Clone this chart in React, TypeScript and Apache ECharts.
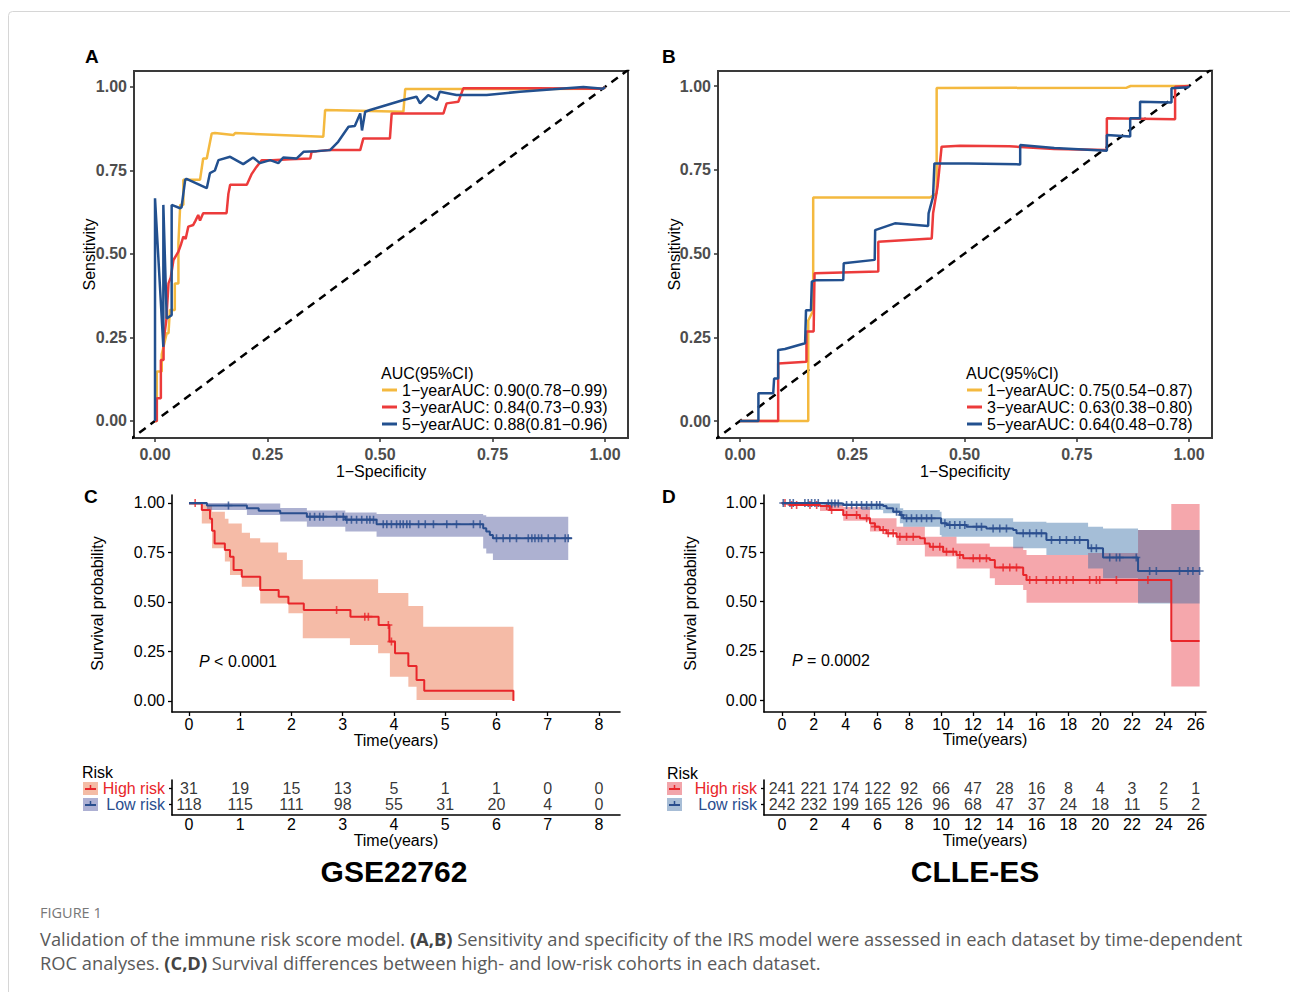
import React, { useEffect, useRef } from "react";
import * as echarts from "echarts";

const FONT = "'Liberation Sans', Arial, Helvetica, sans-serif";
const CAP_FONT = "'Open Sans', 'Noto Sans', sans-serif";

// ---------------- Panel A: time-dependent ROC, GSE22762 ----------------
const rocA_names = ["1−yearAUC: 0.90(0.78−0.99)", "3−yearAUC: 0.84(0.73−0.93)", "5−yearAUC: 0.88(0.81−0.96)"];
const rocA_1y = [[0,0],[0.004,0],[0.004,0.148],[0.015,0.148],[0.015,0.2],[0.026,0.263],[0.03,0.263],[0.033,0.332],[0.044,0.332],[0.044,0.412],[0.052,0.412],[0.052,0.532],[0.056,0.647],[0.063,0.647],[0.063,0.722],[0.1,0.722],[0.107,0.786],[0.115,0.786],[0.126,0.861],[0.133,0.862],[0.174,0.856],[0.178,0.862],[0.374,0.851],[0.378,0.931],[0.552,0.926],[0.556,0.994],[0.685,0.994],[0.996,0.995],[1,1]];
const rocA_3y = [[0,0],[0.004,0],[0.004,0.068],[0.013,0.068],[0.013,0.183],[0.019,0.183],[0.019,0.24],[0.025,0.3],[0.03,0.412],[0.035,0.43],[0.041,0.482],[0.052,0.507],[0.058,0.53],[0.063,0.552],[0.068,0.545],[0.074,0.582],[0.085,0.587],[0.09,0.6],[0.096,0.617],[0.1,0.6],[0.107,0.622],[0.159,0.622],[0.163,0.68],[0.167,0.707],[0.204,0.707],[0.215,0.74],[0.225,0.76],[0.237,0.781],[0.26,0.781],[0.3,0.784],[0.345,0.786],[0.348,0.806],[0.385,0.811],[0.456,0.811],[0.463,0.846],[0.522,0.846],[0.526,0.921],[0.641,0.921],[0.648,0.951],[0.674,0.956],[0.685,0.996],[0.85,0.996],[0.996,0.995],[1,1]];
const rocA_5y = [[0,0],[0,0.667],[0.0185,0.222],[0.0185,0.647],[0.026,0.307],[0.037,0.317],[0.037,0.647],[0.056,0.637],[0.059,0.64],[0.067,0.722],[0.07,0.725],[0.115,0.697],[0.122,0.742],[0.133,0.75],[0.141,0.781],[0.167,0.791],[0.196,0.769],[0.218,0.789],[0.233,0.772],[0.256,0.781],[0.274,0.772],[0.285,0.789],[0.315,0.786],[0.33,0.806],[0.359,0.808],[0.389,0.811],[0.407,0.836],[0.43,0.881],[0.444,0.883],[0.456,0.921],[0.46,0.87],[0.467,0.926],[0.478,0.931],[0.515,0.946],[0.552,0.961],[0.581,0.971],[0.589,0.951],[0.607,0.976],[0.626,0.961],[0.633,0.986],[0.67,0.976],[0.737,0.976],[0.811,0.986],[0.885,0.993],[0.952,1.0],[0.996,0.995],[1,1]];

// ---------------- Panel B: time-dependent ROC, CLLE-ES ----------------
const rocB_names = ["1−yearAUC: 0.75(0.54−0.87)", "3−yearAUC: 0.63(0.38−0.80)", "5−yearAUC: 0.64(0.48−0.78)"];
const rocB_1y = [[0,0],[0.089,0],[0.152,0],[0.152,0.3],[0.163,0.33],[0.163,0.667],[0.423,0.667],[0.438,0.68],[0.438,0.994],[0.861,0.995],[0.87,1.0],[1,1]];
const rocB_3y = [[0,0],[0.085,0],[0.085,0.172],[0.148,0.177],[0.148,0.267],[0.164,0.267],[0.166,0.441],[0.308,0.446],[0.308,0.535],[0.427,0.545],[0.43,0.62],[0.44,0.7],[0.449,0.819],[0.49,0.822],[0.6,0.82],[0.7,0.812],[0.817,0.809],[0.817,0.904],[0.969,0.901],[0.969,0.998],[1,1]];
const rocB_5y = [[0,0],[0.041,0],[0.041,0.083],[0.074,0.083],[0.076,0.127],[0.085,0.127],[0.085,0.212],[0.1,0.215],[0.145,0.232],[0.147,0.331],[0.158,0.331],[0.16,0.416],[0.167,0.42],[0.23,0.421],[0.231,0.471],[0.3,0.481],[0.301,0.57],[0.345,0.59],[0.419,0.582],[0.42,0.62],[0.43,0.67],[0.433,0.769],[0.508,0.769],[0.624,0.766],[0.624,0.824],[0.7,0.815],[0.817,0.807],[0.817,0.854],[0.869,0.849],[0.869,0.904],[0.891,0.904],[0.891,0.953],[0.961,0.951],[0.961,0.993],[0.998,0.996],[1,1]];

const rocTicks = [0, 0.25, 0.5, 0.75, 1];
const diagonal = [[-0.06, -0.06], [1.06, 1.06]];

// ---------------- Panel C: Kaplan-Meier, GSE22762 ----------------
const kmC_high = [[0,1],[0.25,0.965],[0.41,0.92],[0.45,0.86],[0.5,0.796],[0.7,0.763],[0.8,0.729],[0.87,0.662],[1.03,0.628],[1.39,0.561],[1.75,0.527],[1.94,0.493],[2.24,0.46],[3.15,0.426],[3.7,0.384],[3.91,0.3],[4.02,0.241],[4.28,0.177],[4.44,0.106],[4.59,0.052],[6.33,0.0]];
const kmC_low = [[0,1],[0.35,0.987],[1.13,0.973],[1.36,0.961],[1.78,0.948],[2.3,0.931],[3.05,0.916],[3.66,0.893],[5.74,0.872],[5.8,0.856],[5.87,0.838],[5.93,0.822],[7.47,0.822]];
// [time, lower, upper]
const kmC_highBand = [[0,0.99,1.0],[0.25,0.897,0.99],[0.45,0.771,0.956],[0.7,0.704,0.92],[0.77,0.704,0.897],[0.8,0.636,0.897],[1.03,0.577,0.85],[1.19,0.577,0.822],[1.39,0.493,0.8],[1.74,0.493,0.75],[1.91,0.493,0.712],[1.94,0.443,0.712],[2.22,0.317,0.615],[3.14,0.283,0.615],[3.69,0.241,0.545],[3.92,0.123,0.545],[4.28,0.072,0.48],[4.44,0.005,0.48],[4.57,0.005,0.375],[6.33,0.005,0.375]];
const kmC_lowBand = [[0,0.99,1.0],[0.35,0.965,1.0],[1.13,0.94,0.998],[1.78,0.906,0.975],[2.3,0.88,0.962],[3.05,0.856,0.952],[3.66,0.83,0.945],[5.74,0.77,0.938],[5.8,0.745,0.931],[5.93,0.712,0.931],[7.4,0.712,0.931]];
const kmC_highCensor = [0.12, 2.88, 3.43, 3.5, 3.89, 3.95];
const kmC_lowCensor = [0.77, 2.36, 2.45, 2.55, 2.62, 2.88, 3.01, 3.08, 3.17, 3.27, 3.37, 3.47, 3.53, 3.6, 3.79, 3.86, 3.95, 4.05, 4.12, 4.18, 4.25, 4.31, 4.48, 4.61, 4.77, 5.03, 5.22, 5.55, 5.68, 6.0, 6.13, 6.26, 6.39, 6.62, 6.69, 6.75, 6.82, 6.88, 7.01, 7.14, 7.34, 7.4];
const timeC = [0, 1, 2, 3, 4, 5, 6, 7, 8];
const riskC_high = [31, 19, 15, 13, 5, 1, 1, 0, 0];
const riskC_low = [118, 115, 111, 98, 55, 31, 20, 4, 0];

// ---------------- Panel D: Kaplan-Meier, CLLE-ES ----------------
const kmD_high = [[0,1],[0.5,0.99],[2.39,0.985],[3.01,0.964],[3.85,0.939],[4.9,0.922],[5.53,0.897],[5.84,0.88],[6.15,0.863],[6.57,0.846],[7.2,0.829],[8.67,0.821],[8.98,0.795],[9.29,0.778],[10.13,0.753],[10.97,0.736],[11.39,0.719],[13.06,0.711],[13.38,0.673],[15.16,0.635],[15.37,0.609],[24.47,0.3],[26.25,0.3]];
const kmD_low = [[0,1],[2.8,0.998],[3.85,0.99],[6.36,0.985],[6.57,0.973],[6.99,0.956],[7.41,0.939],[7.62,0.922],[10.0,0.897],[10.34,0.888],[11.6,0.88],[12.85,0.871],[14.53,0.863],[14.74,0.846],[16.62,0.812],[19.24,0.77],[20.18,0.723],[22.38,0.655],[26.25,0.655]];
const kmD_highBand = [[0,0.99,1.0],[2.39,0.96,0.99],[3.85,0.91,0.98],[5.53,0.855,0.922],[7.2,0.787,0.88],[8.98,0.728,0.829],[10.97,0.668,0.795],[13.06,0.618,0.778],[13.38,0.584,0.778],[15.16,0.558,0.761],[15.37,0.494,0.736],[19.24,0.494,0.746],[22.38,0.494,0.863],[24.47,0.068,0.995],[26.25,0.068,0.995]];
const kmD_lowBand = [[0,0.99,1.0],[2.8,0.985,1.0],[5.0,0.964,1.0],[6.36,0.948,0.998],[7.41,0.897,0.973],[7.62,0.88,0.965],[9.92,0.838,0.956],[10.03,0.829,0.922],[14.53,0.77,0.905],[16.62,0.736,0.9],[19.24,0.668,0.88],[20.18,0.618,0.871],[22.38,0.49,0.863],[26.25,0.49,0.863]];
const kmD_highCensor = [0.19, 0.61, 0.92, 1.76, 2.18, 2.81, 3.12, 4.06, 4.69, 5.32, 5.84, 6.36, 6.68, 6.99, 7.41, 7.83, 8.25, 9.5, 9.92, 10.34, 10.76, 11.18, 12.02, 12.43, 12.85, 13.9, 14.32, 14.74, 15.57, 15.99, 16.62, 17.04, 17.46, 17.88, 18.3, 19.34, 19.76, 19.97, 21.02, 23.0];
const kmD_lowCensor = [0.08, 0.5, 0.71, 1.44, 1.65, 1.86, 2.07, 2.28, 2.91, 3.12, 3.33, 3.54, 4.06, 4.38, 4.69, 5.0, 5.32, 5.63, 5.95, 6.15, 7.2, 7.52, 7.83, 8.14, 8.46, 8.77, 9.09, 9.4, 10.24, 10.55, 10.86, 11.18, 11.49, 12.23, 12.54, 13.27, 13.69, 14.11, 15.16, 15.57, 15.99, 16.31, 16.94, 17.46, 17.88, 18.4, 18.71, 19.45, 19.76, 20.6, 21.02, 21.23, 22.27, 23.11, 23.53, 24.99, 25.52, 25.83, 26.25];
const timeD = [0, 2, 4, 6, 8, 10, 12, 14, 16, 18, 20, 22, 24, 26];
const riskD_high = [241, 221, 174, 122, 92, 66, 47, 28, 16, 8, 4, 3, 2, 1];
const riskD_low = [242, 232, 199, 165, 126, 96, 68, 47, 37, 24, 18, 11, 5, 2];

const survTicks = [0, 0.25, 0.5, 0.75, 1];

// ---------------- colours ----------------
const C_YEL = "#F4B93F";
const C_RED = "#EC3B3B";
const C_BLU = "#22508F";
const KM_RED = "#E8262A";
const KM_BLU = "#2A4E8E";

// ---------------- helpers ----------------
function stepPts(band: number[][], idx: number) {
  const out: number[][] = [];
  for (let i = 0; i < band.length; i++) {
    out.push([band[i][0], band[i][idx]]);
    if (i < band.length - 1) out.push([band[i + 1][0], band[i][idx]]);
  }
  return out;
}
function bandPolygon(band: number[][]) {
  return stepPts(band, 2).concat(stepPts(band, 1).reverse());
}
function survAt(steps: number[][], t: number) {
  let s = steps[0][1];
  for (const p of steps) {
    if (p[0] <= t) s = p[1];
    else break;
  }
  return s;
}
const PLUS = "path://M0,4H10V6H0Z M4,0H6V10H4Z";

function bandSeries(name: string, band: number[][], ax: number, fill: string) {
  return {
    name,
    type: "custom",
    xAxisIndex: ax,
    yAxisIndex: ax,
    silent: true,
    data: [[0, 0]],
    renderItem: (_p: any, api: any) => ({
      type: "polygon",
      shape: { points: bandPolygon(band).map((pt) => api.coord(pt)) },
      style: { fill },
    }),
  };
}
function kmLine(name: string, steps: number[][], ax: number, color: string) {
  return {
    name,
    type: "line",
    xAxisIndex: ax,
    yAxisIndex: ax,
    step: "end",
    data: steps,
    showSymbol: false,
    silent: true,
    color,
    lineStyle: { color, width: 2 },
  };
}
function censorSeries(name: string, times: number[], steps: number[][], ax: number, color: string) {
  return {
    name,
    type: "scatter",
    xAxisIndex: ax,
    yAxisIndex: ax,
    symbol: PLUS,
    symbolSize: 8,
    silent: true,
    itemStyle: { color },
    data: times.map((t) => [t, survAt(steps, t)]),
  };
}
function rocSeries(name: string, data: number[][], ax: number, color: string) {
  return {
    name,
    type: "line",
    xAxisIndex: ax,
    yAxisIndex: ax,
    data,
    showSymbol: false,
    silent: true,
    color,
    itemStyle: { color },
    lineStyle: { color, width: 2.5 },
  };
}
function diagSeries(name: string, ax: number) {
  return {
    name,
    type: "line",
    xAxisIndex: ax,
    yAxisIndex: ax,
    data: diagonal,
    showSymbol: false,
    silent: true,
    clip: true,
    lineStyle: { color: "#000", width: 2.5, type: [8, 6] },
  };
}
function riskSeries(name: string, times: number[], counts: number[], row: number, ax: number) {
  return {
    name,
    type: "scatter",
    xAxisIndex: ax,
    yAxisIndex: ax,
    symbolSize: 1,
    silent: true,
    itemStyle: { color: "rgba(0,0,0,0)" },
    label: {
      show: true,
      position: "inside",
      formatter: (p: any) => String(p.value[2]),
      fontSize: 16,
      color: "#000",
      fontFamily: FONT,
    },
    data: times.map((t, i) => [t, row, counts[i]]),
  };
}

// axes
function rocXAxis(gi: number, min: number, max: number) {
  return {
    gridIndex: gi, type: "value", min, max,
    axisLine: { show: false, onZero: false }, splitLine: { show: false },
    axisTick: { show: true, length: 4, customValues: rocTicks, lineStyle: { color: "#333", width: 1.5 } },
    axisLabel: { customValues: rocTicks, formatter: (v: number) => v.toFixed(2), fontSize: 16, color: "#4d4d4d", fontWeight: "bold", margin: 8, fontFamily: FONT },
    name: "1−Specificity", nameLocation: "middle", nameGap: 25, nameMoveOverlap: false,
    nameTextStyle: { fontSize: 16, color: "#000", fontFamily: FONT },
  };
}
function rocYAxis(gi: number, min: number, max: number, nameGap: number) {
  return {
    gridIndex: gi, type: "value", min, max,
    axisLine: { show: false, onZero: false }, splitLine: { show: false },
    axisTick: { show: true, length: 4, customValues: rocTicks, lineStyle: { color: "#333", width: 1.5 } },
    axisLabel: { customValues: rocTicks, formatter: (v: number) => v.toFixed(2), fontSize: 16, color: "#4d4d4d", fontWeight: "bold", margin: 7, fontFamily: FONT },
    name: "Sensitivity", nameLocation: "middle", nameGap, nameMoveOverlap: false,
    nameTextStyle: { fontSize: 16, color: "#000", fontFamily: FONT },
  };
}
function kmXAxis(gi: number, min: number, max: number, ticks: number[], nameGap: number, margin: number, showTick: boolean) {
  return {
    gridIndex: gi, type: "value", min, max,
    axisLine: { show: true, onZero: false, lineStyle: { color: "#000", width: 1.6 } },
    splitLine: { show: false },
    axisTick: { show: showTick, length: 4, customValues: ticks, lineStyle: { color: "#000", width: 1.3 } },
    axisLabel: { customValues: ticks, formatter: (v: number) => String(v), fontSize: 16, color: "#000", margin, fontFamily: FONT },
    name: "Time(years)", nameLocation: "middle", nameGap, nameMoveOverlap: false,
    nameTextStyle: { fontSize: 16, color: "#000", fontFamily: FONT },
  };
}
function kmYAxis(gi: number, min: number, max: number, nameGap: number) {
  return {
    gridIndex: gi, type: "value", min, max,
    axisLine: { show: true, onZero: false, lineStyle: { color: "#000", width: 1.6 } },
    splitLine: { show: false },
    axisTick: { show: true, length: 4, customValues: survTicks, lineStyle: { color: "#000", width: 1.3 } },
    axisLabel: { customValues: survTicks, formatter: (v: number) => v.toFixed(2), fontSize: 16, color: "#000", margin: 7, fontFamily: FONT },
    name: "Survival probability", nameLocation: "middle", nameGap, nameMoveOverlap: false,
    nameTextStyle: { fontSize: 16, color: "#000", fontFamily: FONT },
  };
}
function riskYAxis(gi: number) {
  return {
    gridIndex: gi, type: "value", min: -0.687, max: 1.5,
    axisLine: { show: true, onZero: false, lineStyle: { color: "#000", width: 1.6 } },
    splitLine: { show: false },
    axisTick: { show: true, length: 3, customValues: [0, 1], lineStyle: { color: "#000", width: 1.3 } },
    axisLabel: {
      customValues: [0, 1], margin: 7,
      formatter: (v: number) => (v === 1 ? "{h|High risk}" : "{l|Low risk}"),
      rich: {
        h: { color: KM_RED, fontSize: 16, fontFamily: FONT },
        l: { color: KM_BLU, fontSize: 16, fontFamily: FONT },
      },
    },
  };
}

function txt(x: number, y: number, text: string, opt: any = {}) {
  return {
    type: "text",
    silent: true,
    style: {
      x, y, text,
      fill: opt.fill || "#000",
      fontSize: opt.fontSize || 16,
      fontFamily: opt.fontFamily || FONT,
      fontWeight: opt.fontWeight || "normal",
      fontStyle: opt.fontStyle || "normal",
      align: opt.align || "left",
      verticalAlign: "middle",
      textAlign: opt.align || "left",
      textVerticalAlign: "middle",
      rich: opt.rich,
    },
  };
}
function riskIcon(x: number, y: number, fill: string, stroke: string) {
  return {
    type: "group",
    silent: true,
    children: [
      { type: "rect", shape: { x, y, width: 15, height: 13 }, style: { fill } },
      { type: "line", shape: { x1: x + 2, y1: y + 7, x2: x + 13, y2: y + 7 }, style: { stroke, lineWidth: 2 } },
      { type: "line", shape: { x1: x + 7.5, y1: y + 3, x2: x + 7.5, y2: y + 7 }, style: { stroke, lineWidth: 1.5 } },
    ],
  };
}

export default function App() {
  const ref = useRef<HTMLDivElement>(null);
  useEffect(() => {
    if (!ref.current) return;
    const chart = echarts.init(ref.current, undefined, { renderer: "svg" });
    const capRich = {
      b: { fontWeight: "bold", fill: "#444", color: "#444", fontSize: 18.3, fontFamily: CAP_FONT },
    };
    const option: any = {
      animation: false,
      backgroundColor: "#fff",
      textStyle: { fontFamily: FONT },
      grid: [
        { left: 134, top: 71, width: 494, height: 367, show: true, borderColor: "#3a3a3a", borderWidth: 2, backgroundColor: "transparent" },
        { left: 718, top: 71, width: 494, height: 367, show: true, borderColor: "#3a3a3a", borderWidth: 2, backgroundColor: "transparent" },
        { left: 172, top: 495, width: 448, height: 217 },
        { left: 764, top: 495, width: 442, height: 217 },
        { left: 172, top: 780, width: 448, height: 35 },
        { left: 764, top: 780, width: 442, height: 35 },
      ],
      xAxis: [
        rocXAxis(0, -0.0467, 1.0511),
        rocXAxis(1, -0.049, 1.0512),
        kmXAxis(2, -0.3317, 8.4098, timeC, 20, 4, true),
        kmXAxis(3, -1.1305, 26.6516, timeD, 19, 4, true),
        kmXAxis(4, -0.3317, 8.4098, timeC, 17, 1, false),
        kmXAxis(5, -1.1305, 26.6516, timeD, 17, 1, false),
      ],
      yAxis: [
        rocYAxis(0, -0.0509, 1.0479, 37),
        rocYAxis(1, -0.0507, 1.0448, 36),
        kmYAxis(2, -0.0556, 1.0404, 67),
        kmYAxis(3, -0.0609, 1.0406, 66),
        riskYAxis(4),
        riskYAxis(5),
      ],
      legend: [
        {
          data: rocA_names, left: 382, top: 382, orient: "vertical", icon: "rect",
          itemWidth: 15, itemHeight: 3, itemGap: 1, padding: 0, selectedMode: false,
          textStyle: { fontSize: 16, color: "#000", fontFamily: FONT, lineHeight: 16 },
        },
        {
          data: rocB_names, left: 967, top: 382, orient: "vertical", icon: "rect",
          itemWidth: 15, itemHeight: 3, itemGap: 1, padding: 0, selectedMode: false,
          textStyle: { fontSize: 16, color: "#000", fontFamily: FONT, lineHeight: 16 },
        },
      ],
      series: [
        diagSeries("diagonal A", 0),
        rocSeries(rocA_names[0], rocA_1y, 0, C_YEL),
        rocSeries(rocA_names[1], rocA_3y, 0, C_RED),
        rocSeries(rocA_names[2], rocA_5y, 0, C_BLU),
        diagSeries("diagonal B", 1),
        rocSeries(rocB_names[0], rocB_1y, 1, C_YEL),
        rocSeries(rocB_names[1], rocB_3y, 1, C_RED),
        rocSeries(rocB_names[2], rocB_5y, 1, C_BLU),

        bandSeries("C high CI", kmC_highBand, 2, "rgba(235,120,80,0.5)"),
        bandSeries("C low CI", kmC_lowBand, 2, "rgba(50,60,140,0.4)"),
        kmLine("C High risk", kmC_high, 2, KM_RED),
        kmLine("C Low risk", kmC_low, 2, KM_BLU),
        censorSeries("C High censor", kmC_highCensor, kmC_high, 2, KM_RED),
        censorSeries("C Low censor", kmC_lowCensor, kmC_low, 2, KM_BLU),

        kmLine("D High risk", kmD_high, 3, KM_RED),
        censorSeries("D High censor", kmD_highCensor, kmD_high, 3, KM_RED),
        bandSeries("D high CI", kmD_highBand, 3, "rgba(232,60,70,0.45)"),
        bandSeries("D low CI", kmD_lowBand, 3, "rgba(40,100,160,0.42)"),
        kmLine("D Low risk", kmD_low, 3, KM_BLU),
        censorSeries("D Low censor", kmD_lowCensor, kmD_low, 3, KM_BLU),

        riskSeries("C risk high", timeC, riskC_high, 1, 4),
        riskSeries("C risk low", timeC, riskC_low, 0, 4),
        riskSeries("D risk high", timeD, riskD_high, 1, 5),
        riskSeries("D risk low", timeD, riskD_low, 0, 5),
      ],
      graphic: [
        { type: "rect", silent: true, shape: { x: 8.5, y: 11.5, width: 1295, height: 995, r: 4 }, style: { fill: "none", stroke: "#d6d6d6", lineWidth: 1 } },
        txt(85, 56, "A", { fontSize: 19, fontWeight: "bold" }),
        txt(662, 56, "B", { fontSize: 19, fontWeight: "bold" }),
        txt(84, 496, "C", { fontSize: 19, fontWeight: "bold" }),
        txt(662, 496, "D", { fontSize: 19, fontWeight: "bold" }),
        txt(381, 373, "AUC(95%CI)"),
        txt(966, 373, "AUC(95%CI)"),
        txt(199, 661, "{i|P} < 0.0001", { rich: { i: { fontStyle: "italic", fontSize: 16, fontFamily: FONT, fill: "#000", color: "#000" } } }),
        txt(792, 660, "{i|P} = 0.0002", { rich: { i: { fontStyle: "italic", fontSize: 16, fontFamily: FONT, fill: "#000", color: "#000" } } }),
        txt(82, 772, "Risk"),
        txt(667, 773, "Risk"),
        riskIcon(83, 782, "#F4BCA5", KM_RED),
        riskIcon(83, 798, "#ADB0D3", KM_BLU),
        riskIcon(667, 782, "#F2A5AA", KM_RED),
        riskIcon(667, 798, "#A7BDD6", KM_BLU),
        txt(394, 871, "GSE22762", { fontSize: 30, fontWeight: "bold", align: "center" }),
        txt(975, 871, "CLLE-ES", { fontSize: 30, fontWeight: "bold", align: "center" }),
        txt(40, 912, "FIGURE 1", { fontSize: 14.5, fill: "#777", fontFamily: CAP_FONT }),
        txt(40, 938, "Validation of the immune risk score model. {b|(A,B)} Sensitivity and specificity of the IRS model were assessed in each dataset by time-dependent", { fontSize: 18.3, fill: "#5a5a5a", fontFamily: CAP_FONT, rich: capRich }),
        txt(40, 962, "ROC analyses. {b|(C,D)} Survival differences between high- and low-risk cohorts in each dataset.", { fontSize: 18.3, fill: "#5a5a5a", fontFamily: CAP_FONT, rich: capRich }),
      ],
    };
    chart.setOption(option);
    return () => chart.dispose();
  }, []);
  return (
    <div
      ref={ref}
      style={{ position: "absolute", left: 0, top: 0, width: 1290, height: 992, background: "#fff" }}
    />
  );
}
